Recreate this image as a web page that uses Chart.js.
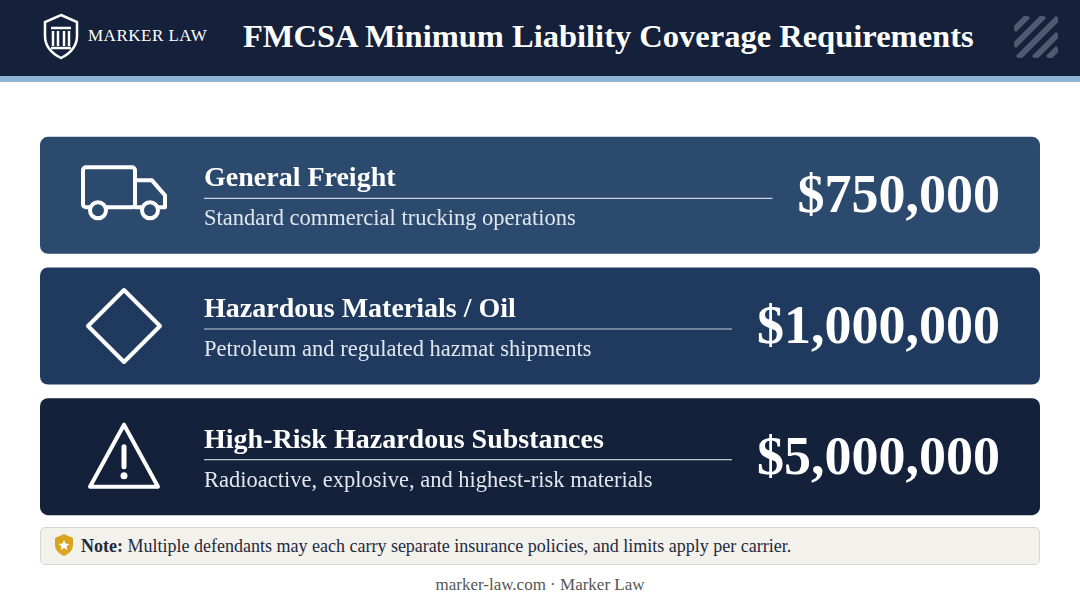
<!DOCTYPE html>
<html><head><meta charset="utf-8">
<script src="https://cdn.jsdelivr.net/npm/chart.js@4/dist/chart.umd.min.js"></script>
<style>
body{margin:0;width:1080px;height:603px;background:#fff;font-family:"Liberation Serif",serif;position:relative;overflow:hidden}
#hdr{position:absolute;left:0;top:0;width:1080px;height:76px;background:#15213a;border-bottom:6px solid #8db6d4}
#logo{position:absolute;left:40px;top:12px;color:#fff;font-size:17px;letter-spacing:0.5px;display:flex;align-items:center;gap:6px}
#ttl{position:absolute;left:243px;top:18px;color:#fff;font-weight:bold;font-size:32.5px;white-space:nowrap}
#box{position:absolute;left:40px;top:130px;width:1000px;height:392px}
#note{position:absolute;left:40px;top:527px;width:998px;height:36px;background:#f3f1ec;border:1px solid #d9d5ca;border-radius:5px;font-size:18px;color:#1e2a3c;line-height:36px}
#foot{position:absolute;left:0;width:1080px;top:575px;text-align:center;font-size:17px;color:#555}
</style></head><body>
<div id="hdr">
<div id="logo"><svg width="42" height="48" viewBox="0 0 42 48"><path d="M21 3 L37 10 V24 C37 35 29 42 21 46 C13 42 5 35 5 24 V10 Z" fill="none" stroke="#fff" stroke-width="2.5"/><path d="M11 16 H31 M13 19 V34 M18 19 V34 M24 19 V34 M29 19 V34 M11 36 H31" stroke="#fff" stroke-width="2.5"/></svg>MARKER LAW</div>
<div id="ttl">FMCSA Minimum Liability Coverage Requirements</div>
<svg style="position:absolute;left:1014px;top:16px" width="44" height="42"><path d="M0 14 L14 0 M0 30 L30 0 M4 42 L44 2 M20 42 L44 18 M34 42 L44 32" stroke="#4d5a70" stroke-width="6"/></svg>
</div>
<div id="box"><canvas id="c"></canvas></div>
<div id="note"><svg style="vertical-align:-5px;margin:0 6px 0 12px" width="22" height="24" viewBox="0 0 22 24"><path d="M11 1 L20 5 V12 C20 18 15 21 11 23 C7 21 2 18 2 12 V5 Z" fill="#d9a521"/><path d="M11 7 L12.6 10.6 L16.4 11 L13.5 13.5 L14.4 17 L11 15.1 L7.6 17 L8.5 13.5 L5.6 11 L9.4 10.6 Z" fill="#fff"/></svg><b>Note:</b> Multiple defendants may each carry separate insurance policies, and limits apply per carrier.</div>
<div id="foot">marker-law.com · Marker Law</div>
<script>
// Coverage categories
const categories = ['General Freight', 'Hazardous Materials / Oil', 'High-Risk Hazardous Substances'];
const descriptions = ['Standard commercial trucking operations', 'Petroleum and regulated hazmat shipments', 'Radioactive, explosive, and highest-risk materials'];
const coverage = [750000, 1000000, 5000000];
const cardFill = [1, 1, 1];
const cardColors = ['#2c4a6d', '#1f3a5e', '#14213a'];
const icons = ['truck', 'diamond', 'warning'];

function drawIcon(ctx, kind, cx, cy) {
  ctx.save();
  ctx.strokeStyle = '#fff'; ctx.lineWidth = 4; ctx.lineJoin = 'round'; ctx.lineCap = 'round';
  ctx.beginPath();
  if (kind === 'truck') {
    ctx.roundRect(cx - 41, cy - 28, 52, 40, 3);
    ctx.moveTo(11 + cx, cy - 15); ctx.lineTo(cx + 28, cy - 15); ctx.lineTo(cx + 41, cy); ctx.lineTo(cx + 41, cy + 12); ctx.lineTo(cx + 11, cy + 12);
    ctx.stroke();
    ctx.fillStyle = cardColors[0];
    [cx - 26, cx + 26].forEach(x => { ctx.beginPath(); ctx.arc(x, cy + 15, 8, 0, Math.PI * 2); ctx.fill(); ctx.stroke(); });
  } else if (kind === 'diamond') {
    ctx.moveTo(cx, cy - 36); ctx.lineTo(cx + 36, cy); ctx.lineTo(cx, cy + 36); ctx.lineTo(cx - 36, cy); ctx.closePath(); ctx.stroke();
  } else {
    ctx.moveTo(cx, cy - 32); ctx.lineTo(cx + 34, cy + 30); ctx.lineTo(cx - 34, cy + 30); ctx.closePath(); ctx.stroke();
    ctx.beginPath(); ctx.lineWidth = 5; ctx.moveTo(cx, cy - 10); ctx.lineTo(cx, cy + 10); ctx.stroke();
    ctx.fillStyle = '#fff'; ctx.beginPath(); ctx.arc(cx, cy + 19, 3.5, 0, Math.PI * 2); ctx.fill();
  }
  ctx.restore();
}

const cardText = {
  id: 'cardText',
  afterDatasetsDraw(chart) {
    const ctx = chart.ctx;
    chart.getDatasetMeta(0).data.forEach((bar, i) => {
      const cy = bar.y;
      drawIcon(ctx, icons[i], 84, cy);
      ctx.save();
      ctx.fillStyle = '#fff';
      ctx.font = 'bold 54px "Liberation Serif"';
      ctx.textAlign = 'right'; ctx.textBaseline = 'middle';
      const val = '$' + coverage[i].toLocaleString('en-US');
      ctx.fillText(val, 960, cy + 3);
      const vw = ctx.measureText(val).width;
      ctx.textAlign = 'left'; ctx.textBaseline = 'alphabetic';
      ctx.font = 'bold 28px "Liberation Serif"';
      ctx.fillText(categories[i], 164, cy - 9);
      ctx.font = '22.5px "Liberation Serif"';
      ctx.fillStyle = '#e1e7ef';
      ctx.fillText(descriptions[i], 164, cy + 30);
      ctx.strokeStyle = 'rgba(255,255,255,0.75)'; ctx.lineWidth = 1.2;
      ctx.beginPath(); ctx.moveTo(164, cy + 3); ctx.lineTo(960 - vw - 25, cy + 3); ctx.stroke();
      ctx.restore();
    });
  }
};

new Chart(document.getElementById('c'), {
  type: 'bar',
  data: { labels: categories, datasets: [{ data: cardFill, backgroundColor: cardColors, borderRadius: 8, borderSkipped: false, categoryPercentage: 1, barPercentage: 0.895 }] },
  options: {
    indexAxis: 'y', responsive: true, maintainAspectRatio: false, animation: false,
    layout: { padding: 0 },
    scales: { x: { display: false, min: 0, max: 1 }, y: { display: false } },
    plugins: { legend: { display: false }, tooltip: { enabled: false } }
  },
  plugins: [cardText]
});
</script>
</body></html>
